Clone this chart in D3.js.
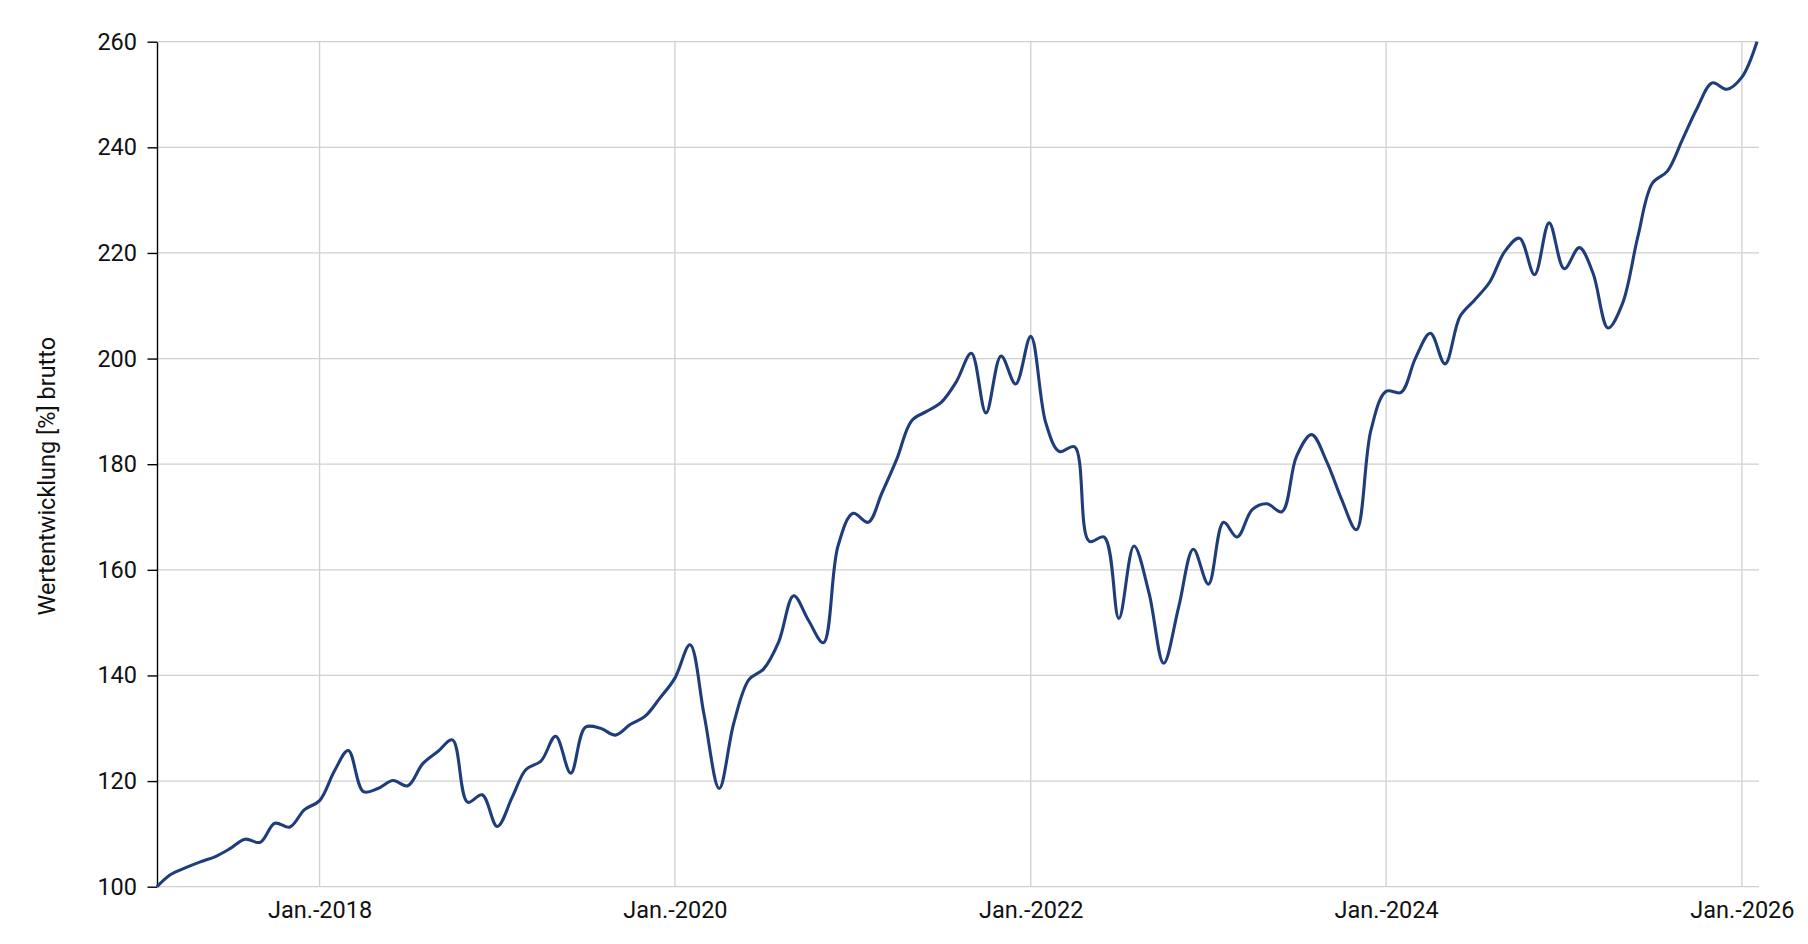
<!DOCTYPE html>
<html>
<head>
<meta charset="utf-8">
<script src="https://cdn.jsdelivr.net/npm/d3@7"></script>
<style>
  body { margin: 0; background: #fff; }
  svg { display: block; font-family: Roboto, "Noto Sans", sans-serif; }
</style>
</head>
<body>
<script>
// monthly values, first point Feb 2017
const startMonth = new Date(2017, 1, 1);
const v2017 = [100, 102.3, 103.6, 104.7, 105.7, 107.2, 109.0, 108.4, 112.0, 111.3, 114.6];
const v2018 = [116.3, 122.0, 125.8, 118.0, 118.6, 120.1, 119.1, 123.3, 125.6, 127.8, 116.0, 117.4];
const v2019 = [111.4, 117.0, 122.2, 123.8, 128.5, 121.5, 130.2, 130.0, 128.7, 130.7, 132.3, 135.7];
const v2020 = [139.5, 145.8, 132.5, 118.6, 131.0, 139.2, 141.2, 146.3, 155.1, 150.5, 146.2, 164.5];
const v2021 = [170.7, 169.0, 174.5, 181.0, 188.2, 190.0, 191.7, 195.6, 201.0, 189.7, 200.5, 195.2];
const v2022 = [204.2, 187.8, 182.4, 183.3, 165.4, 166.2, 150.8, 164.5, 155.6, 142.3, 153.0, 163.9];
const v2023 = [157.3, 169.0, 166.2, 171.4, 172.5, 171.0, 181.5, 185.6, 180.5, 173.5, 167.6, 186.5];
const v2024 = [193.8, 193.6, 200.0, 204.8, 199.0, 208.0, 211.1, 214.5, 220.3, 222.8, 215.9, 225.7];
const v2025 = [217.0, 221.0, 216.2, 205.8, 210.5, 223.0, 233.2, 235.5, 241.5, 247.4, 252.2, 251.0];
const v2026 = [253.3, 260.0];

const xTickYears = [2018, 2020, 2022, 2024, 2026];
const yTicks = [100, 120, 140, 160, 180, 200, 220, 240, 260];
const yTitle = "Wertentwicklung [%] brutto";

const values = [].concat(v2017, v2018, v2019, v2020, v2021, v2022, v2023, v2024, v2025, v2026);
const data = values.map((v, i) => ({ date: d3.timeMonth.offset(startMonth, i), value: v }));

const width = 1808, height = 944;
const mLeft = 157, mRight = 1757, mTop = 41.7, mBottom = 886.7;

const svg = d3.select("body").append("svg")
  .attr("width", width)
  .attr("height", height);

const x = d3.scaleTime()
  .domain([startMonth, data[data.length - 1].date])
  .range([mLeft, mRight]);
const y = d3.scaleLinear()
  .domain([100, 260])
  .range([mBottom, mTop]);

//horizontal gridlines
svg.append("g")
  .selectAll("line")
  .data(yTicks)
  .join("line")
  .attr("x1", mLeft)
  .attr("x2", mRight + 2)
  .attr("y1", d => y(d))
  .attr("y2", d => y(d))
  .attr("stroke", "#d0d0d0")
  .attr("stroke-width", 1.3);

//vertical gridlines at january of even years
const xTicks = xTickYears.map(yr => new Date(yr, 0, 1));
svg.append("g")
  .selectAll("line")
  .data(xTicks)
  .join("line")
  .attr("x1", d => x(d))
  .attr("x2", d => x(d))
  .attr("y1", mTop)
  .attr("y2", mBottom)
  .attr("stroke", "#d0d0d0")
  .attr("stroke-width", 1.3);

//x axis labels only
const xAxis = svg.append("g")
  .attr("transform", `translate(0,${mBottom})`)
  .call(d3.axisBottom(x)
    .tickValues(xTicks)
    .tickSize(0)
    .tickPadding(15)
    .tickFormat(d => "Jan.-" + d.getFullYear()));
xAxis.select(".domain").remove();
xAxis.selectAll("text")
  .attr("font-size", 23.5)
  .attr("font-family", "Roboto")
  .attr("fill", "#111");

//y axis
const yAxis = svg.append("g")
  .attr("transform", `translate(${mLeft},0)`)
  .call(d3.axisLeft(y)
    .tickValues(yTicks)
    .tickSize(9.5)
    .tickPadding(10.5)
    .tickSizeOuter(0));
yAxis.select(".domain").attr("stroke", "#000").attr("stroke-width", 1.4);
yAxis.selectAll(".tick line").attr("stroke", "#000").attr("stroke-width", 1.4);
yAxis.selectAll("text")
  .attr("font-size", 23.5)
  .attr("font-family", "Roboto")
  .attr("fill", "#111");

//y title
svg.append("text")
  .attr("transform", `translate(55,${(mTop + mBottom) / 2 + 12}) rotate(-90)`)
  .attr("text-anchor", "middle")
  .attr("font-size", 23.5)
  .attr("fill", "#111")
  .text(yTitle);

//line
const line = d3.line()
  .x(d => x(d.date))
  .y(d => y(d.value))
  .curve(d3.curveCatmullRom.alpha(0.5));

svg.append("path")
  .datum(data)
  .attr("fill", "none")
  .attr("stroke", "#1f3d7a")
  .attr("stroke-width", 3.1)
  .attr("stroke-linejoin", "round")
  .attr("d", line);
</script>
</body>
</html>
